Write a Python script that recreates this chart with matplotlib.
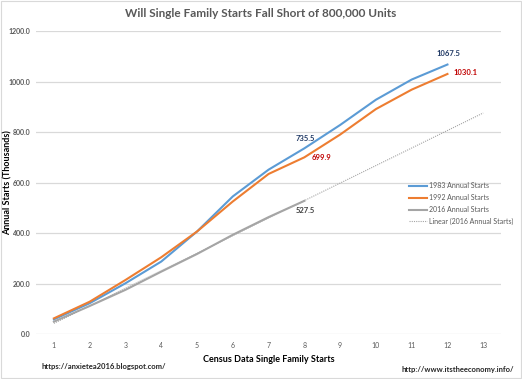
import numpy as np
import matplotlib.pyplot as plt
from matplotlib.patches import Rectangle

plt.rcParams['font.family'] = ['Lato', 'DejaVu Sans']

# periods (years since start of each series)
periods = [1, 2, 3, 4, 5, 6, 7, 8, 9, 10, 11, 12]
starts_1983 = [58, 122, 201, 287, 406, 545, 651, 735.5, 828, 928, 1008, 1067.5]
starts_1992 = [62, 128, 214, 304, 406, 525, 634, 699.9, 790, 891, 968, 1030.1]
periods_2016 = [1, 2, 3, 4, 5, 6, 7, 8]
starts_2016 = [49, 111, 175, 247, 317, 393, 463, 527.5]
x_ticks = list(range(1, 14))

blue = '#5B9BD5'
orange = '#ED7D31'
gray = '#A5A5A5'

fig = plt.figure(figsize=(5.22, 3.79), dpi=100)
ax = fig.add_axes([0.069, 0.1187, 0.891, 0.7993])

ax.plot(periods, starts_1983, color=blue, lw=1.5, label='1983 Annual Starts')
ax.plot(periods, starts_1992, color=orange, lw=1.5, label='1992 Annual Starts')
ax.plot(periods_2016, starts_2016, color=gray, lw=1.5, label='2016 Annual Starts')

# linear trend of 2016 series, extended to period 13
slope, icpt = np.polyfit(periods_2016, starts_2016, 1)
trend_x = np.array([1, 13])
ax.plot(trend_x, slope * trend_x + icpt, color=gray, lw=0.8, ls=(0, (1, 1)),
        label='Linear (2016 Annual Starts)')

# data labels
lab = dict(fontsize=5.5, fontweight='bold', textcoords='offset points', ha='center', va='center')
ax.annotate('1067.5', (12, starts_1983[11]), xytext=(1, 8), color='#1F3864', **lab)
ax.annotate('735.5', (8, starts_1983[7]), xytext=(1, 7), color='#1F3864', **lab)
ax.annotate('1030.1', (12, starts_1992[11]), xytext=(13, 1), color='#C00000', **lab)
ax.annotate('699.9', (8, starts_1992[7]), xytext=(12, 0), color='#C00000', **lab)
ax.annotate('527.5', (8, starts_2016[7]), xytext=(1, -7), color='#404040', **lab)

ax.set_xlim(0.5, 13.5)
ax.set_ylim(0, 1200)
ax.set_xticks(x_ticks)
ax.set_yticks(np.arange(0, 1201, 200))
ax.set_yticklabels(['%.1f' % v for v in np.arange(0, 1201, 200)], fontweight='bold')
ax.tick_params(length=0, labelsize=5, colors='#595959', pad=4)
ax.tick_params(axis='x', pad=6)
ax.grid(axis='y', color='#D9D9D9', lw=0.9)
ax.set_axisbelow(True)
for s in ax.spines.values():
    s.set_visible(False)

ax.set_xlabel('Census Data Single Family Starts', fontsize=6.5, fontweight='bold', labelpad=4)
fig.text(0.015, 0.518, 'Annual Starts (Thousands)', rotation=90, ha='center', va='center',
         fontsize=6.5, fontweight='bold')

ax.legend(loc='upper left', bbox_to_anchor=(0.795, 0.51), borderaxespad=0, frameon=False, fontsize=5,
          labelcolor='#595959', handlelength=2.7, handletextpad=0.3, labelspacing=0.7)

fig.text(0.5, 0.965, 'Will Single Family Starts Fall Short of 800,000 Units', ha='center', va='center',
         fontsize=8.5, fontweight='bold', color='#595959')
fig.text(0.08, 0.032, 'https://anxietea2016.blogspot.com/', ha='left', va='center',
         fontsize=5.5, fontweight='bold', color='#262626')
fig.text(0.985, 0.024, 'http://www.itstheeconomy.info/', ha='right', va='center',
         fontsize=5.5, fontweight='bold', color='#262626')

fig.patches.append(Rectangle((0.002, 0.003), 0.996, 0.994, transform=fig.transFigure,
                             fill=False, edgecolor='#D9D9D9', lw=0.8))

fig.savefig('out.png', dpi=100)
